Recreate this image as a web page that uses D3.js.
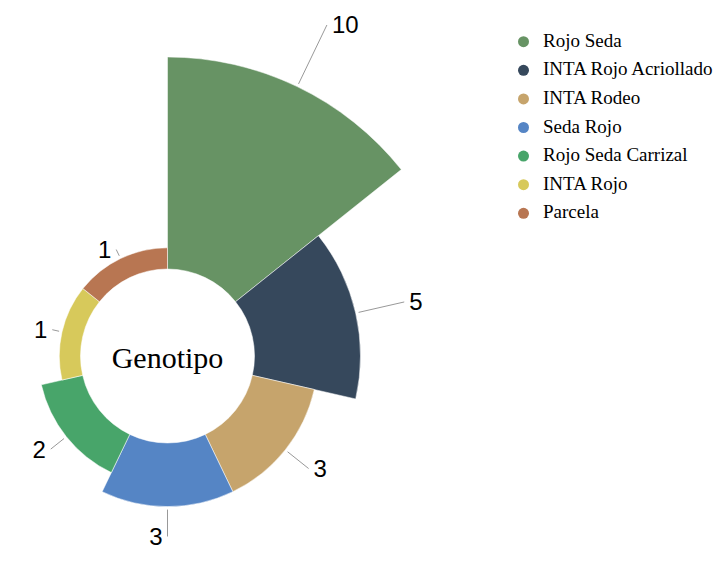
<!DOCTYPE html>
<html>
<head>
<meta charset="utf-8">
<script src="https://cdn.jsdelivr.net/npm/d3@7"></script>
<style>
  body { margin: 0; background: #fff; }
</style>
</head>
<body>
<script>
  // genotipo counts
  var categories = ["Rojo Seda", "INTA Rojo Acriollado", "INTA Rodeo", "Seda Rojo", "Rojo Seda Carrizal", "INTA Rojo", "Parcela"];
  var values = [10, 5, 3, 3, 2, 1, 1];
  var colorList = ["#679364", "#36485c", "#c6a46c", "#5585c5", "#48a56a", "#d7c95b", "#b87652"];
  var centerTitle = "Genotipo";

  var width = 721, height = 561
    , cx = 167.5, cy = 356
    , r0 = 87, r1 = 299;

  var svg = d3.select("body").append("svg").attr("width", width).attr("height", height);
  var g = svg.append("g").attr("transform", "translate(" + cx + "," + cy + ")");

  var color = d3.scaleOrdinal().domain(categories).range(colorList);
  //rose type "area": same angle, radius by value
  var rScale = d3.scaleLinear().domain([0, d3.max(values)]).range([r0, r1]);
  var angle = d3.scaleBand().domain(categories).range([0, 2 * Math.PI]).paddingInner(0).paddingOuter(0);

  var data = categories.map(function(c, i) {
    return { name: c, value: values[i], a0: angle(c), a1: angle(c) + angle.bandwidth() };
  });

  var arc = d3.arc();

  g.selectAll(".slice").data(data).enter().append("path")
    .attr("class", "slice")
    .attr("d", function(d) {
      return arc({ innerRadius: r0, outerRadius: rScale(d.value), startAngle: d.a0, endAngle: d.a1 });
    })
    .style("fill", function(d) { return color(d.name); })
    .style("stroke", "#fff").style("stroke-width", 0.5);

  //label lines
  data.forEach(function(d) {
    var mid = (d.a0 + d.a1) / 2
      , sx = Math.sin(mid), sy = -Math.cos(mid)
      , R = rScale(d.value)
      , rEnd = r0 + 1.47 * (R - r0);
    //keep the label inside the top edge
    if (cy + sy * rEnd < 25) rEnd = (cy - 25) / -sy;
    d.p1 = [sx * (R + 3), sy * (R + 3)];
    d.p2 = [sx * rEnd, sy * rEnd];
    d.right = sx > 0.01;
  });

  g.selectAll(".lline").data(data).enter().append("line")
    .attr("class", "lline")
    .attr("x1", function(d) { return d.p1[0]; }).attr("y1", function(d) { return d.p1[1]; })
    .attr("x2", function(d) { return d.p2[0]; }).attr("y2", function(d) { return d.p2[1]; })
    .style("stroke", "#999").style("stroke-width", 1);

  g.selectAll(".ltext").data(data).enter().append("text")
    .attr("class", "ltext")
    .attr("x", function(d) { return d.p2[0] + (d.right ? 5 : -5); })
    .attr("y", function(d) { return d.p2[1]; })
    .attr("dy", "0.35em")
    .attr("text-anchor", function(d) { return d.right ? "start" : "end"; })
    .style("font-family", "'Liberation Sans', Arial, sans-serif")
    .style("font-size", "24px")
    .style("fill", "#000")
    .text(function(d) { return d.value; });

  g.append("text")
    .attr("x", 0).attr("y", 12)
    .attr("text-anchor", "middle")
    .style("font-family", "'Liberation Serif', 'Times New Roman', serif")
    .style("font-size", "30px")
    .style("fill", "#000")
    .text(centerTitle);

  //legend
  var legend = svg.append("g").attr("transform", "translate(523.5,41.7)");
  var rows = legend.selectAll(".row").data(categories).enter().append("g")
    .attr("class", "row")
    .attr("transform", function(d, i) { return "translate(0," + (i * 28.6) + ")"; });
  rows.append("circle").attr("r", 5.5).style("fill", function(d) { return color(d); });
  rows.append("text")
    .attr("x", 19.5).attr("y", 5)
    .style("font-family", "'Liberation Serif', 'Times New Roman', serif")
    .style("font-size", "19px")
    .style("fill", "#000")
    .text(function(d) { return d; });
</script>
</body>
</html>
